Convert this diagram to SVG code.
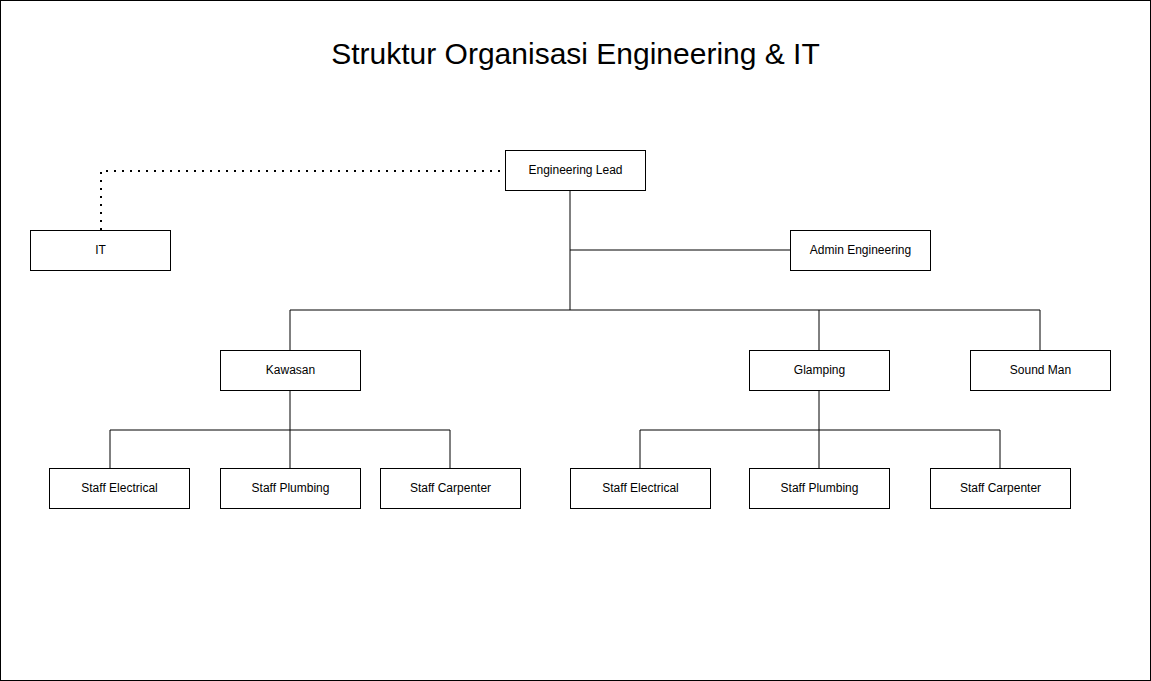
<svg xmlns="http://www.w3.org/2000/svg" width="1151" height="681" viewBox="0 0 1151 681">
<style>
.box{fill:#fff;stroke:#000;stroke-width:1}
.lbl{font-family:"Liberation Sans",Arial,sans-serif;font-size:12px;fill:#000;text-anchor:middle;dominant-baseline:central}
.ln{fill:none;stroke:#000;stroke-width:1}
.dot{fill:none;stroke:#000;stroke-width:2;stroke-dasharray:2 6}
.title{font-family:"Liberation Sans",Arial,sans-serif;font-size:30px;fill:#000;text-anchor:middle}
</style>
<rect x="0.5" y="0.5" width="1150" height="680" fill="#fff" stroke="#000"/>
<text class="title" x="575.5" y="64">Struktur Organisasi Engineering &amp; IT</text>
<g id="connectors">
<path class="dot" d="M500,171 H101 V230"/>
<path class="ln" d="M570,190 V310"/>
<path class="ln" d="M570,250 H790"/>
<path class="ln" d="M290,350 V310 H1040 V350"/>
<path class="ln" d="M819,310 V350"/>
<path class="ln" d="M290,390 V430"/>
<path class="ln" d="M110,468 V430 H450 V468"/>
<path class="ln" d="M290,430 V468"/>
<path class="ln" d="M819,390 V468"/>
<path class="ln" d="M640,468 V430 H1000 V468"/>
</g>
<g id="engineering-lead"><rect class="box" x="505.5" y="150.5" width="140" height="40"/><text class="lbl" x="575.5" y="169.5">Engineering Lead</text></g>
<g id="it"><rect class="box" x="30.5" y="230.5" width="140" height="40"/><text class="lbl" x="100.5" y="249.5">IT</text></g>
<g id="admin-engineering"><rect class="box" x="790.5" y="230.5" width="140" height="40"/><text class="lbl" x="860.5" y="249.5">Admin Engineering</text></g>
<g id="kawasan"><rect class="box" x="220.5" y="350.5" width="140" height="40"/><text class="lbl" x="290.5" y="369.5">Kawasan</text></g>
<g id="glamping"><rect class="box" x="749.5" y="350.5" width="140" height="40"/><text class="lbl" x="819.5" y="369.5">Glamping</text></g>
<g id="sound-man"><rect class="box" x="970.5" y="350.5" width="140" height="40"/><text class="lbl" x="1040.5" y="369.5">Sound Man</text></g>
<g id="kawasan-electrical"><rect class="box" x="49.5" y="468.5" width="140" height="40"/><text class="lbl" x="119.5" y="487.5">Staff Electrical</text></g>
<g id="kawasan-plumbing"><rect class="box" x="220.5" y="468.5" width="140" height="40"/><text class="lbl" x="290.5" y="487.5">Staff Plumbing</text></g>
<g id="kawasan-carpenter"><rect class="box" x="380.5" y="468.5" width="140" height="40"/><text class="lbl" x="450.5" y="487.5">Staff Carpenter</text></g>
<g id="glamping-electrical"><rect class="box" x="570.5" y="468.5" width="140" height="40"/><text class="lbl" x="640.5" y="487.5">Staff Electrical</text></g>
<g id="glamping-plumbing"><rect class="box" x="749.5" y="468.5" width="140" height="40"/><text class="lbl" x="819.5" y="487.5">Staff Plumbing</text></g>
<g id="glamping-carpenter"><rect class="box" x="930.5" y="468.5" width="140" height="40"/><text class="lbl" x="1000.5" y="487.5">Staff Carpenter</text></g>
</svg>
